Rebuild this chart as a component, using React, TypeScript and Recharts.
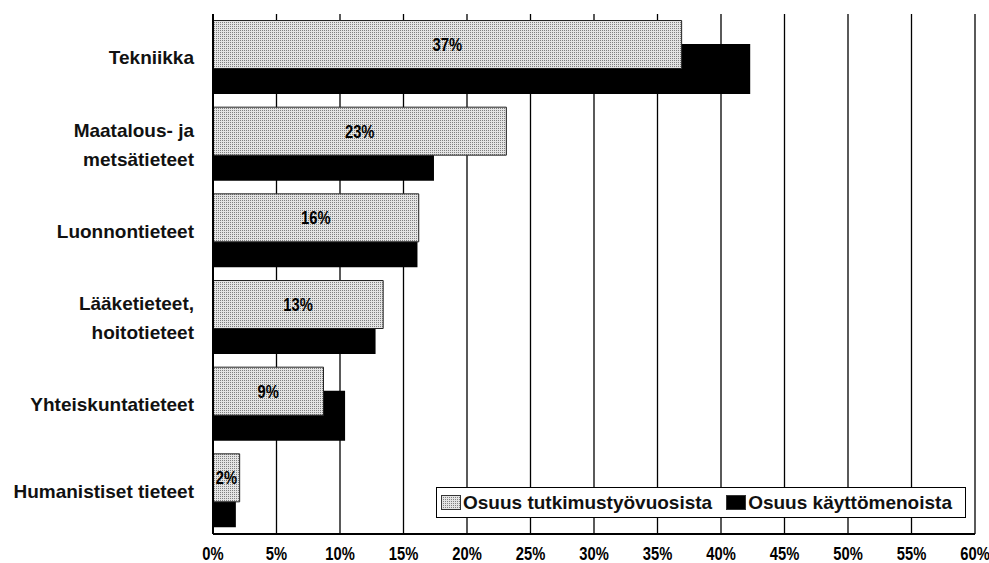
import React from "react";
import {
  BarChart,
  Bar,
  XAxis,
  YAxis,
  CartesianGrid,
  Legend,
  LabelList,
} from "recharts";

// Tieteenalat ylhäältä alas
const categories = [
  "Tekniikka",
  "Maatalous- ja\nmetsätieteet",
  "Luonnontieteet",
  "Lääketieteet,\nhoitotieteet",
  "Yhteiskuntatieteet",
  "Humanistiset tieteet",
];

// Osuus tutkimustyövuosista (%)
const tyovuodet = [36.9, 23.1, 16.2, 13.4, 8.7, 2.1];
// Osuus käyttömenoista (%)
const kayttomenot = [42.3, 17.4, 16.1, 12.8, 10.4, 1.8];

const xTicks = [0, 5, 10, 15, 20, 25, 30, 35, 40, 45, 50, 55, 60];

const data = categories.map((name, i) => ({
  name,
  tyovuodet: tyovuodet[i],
  kayttomenot: kayttomenot[i],
}));

const SANS = '"Liberation Sans", Arial, sans-serif';

// monirivinen luokkanimi
const CategoryTick = ({ x, y, payload }: any) => {
  const lines = String(payload.value).split("\n");
  return (
    <text
      x={x}
      y={y}
      textAnchor="end"
      fontSize={19}
      fontWeight="bold"
      fill="#111"
      fontFamily={SANS}
    >
      {lines.map((line, i) => (
        <tspan key={i} x={x} dy={i === 0 ? 7 - (lines.length - 1) * 14.5 : 29}>
          {line}
        </tspan>
      ))}
    </text>
  );
};

// kapeutettu lihavoitu teksti (alkuperäisen condensed-fontin tapaan)
const PercentTick = ({ x, y, payload }: any) => (
  <g transform={`translate(${x},${y})`}>
    <text
      transform="scale(0.82,1)"
      textAnchor="middle"
      dy="0.71em"
      fontSize={18}
      fontWeight="bold"
      fill="#000"
      fontFamily={SANS}
    >
      {`${payload.value}%`}
    </text>
  </g>
);

const BarValueLabel = ({ x, y, width, height, value }: any) => (
  <g transform={`translate(${Number(x) + Number(width) / 2},${Number(y) + Number(height) / 2})`}>
    <text
      transform="scale(0.82,1)"
      textAnchor="middle"
      dy="0.36em"
      fontSize={18}
      fontWeight="bold"
      fill="#000"
      fontFamily={SANS}
    >
      {`${Math.round(Number(value))}%`}
    </text>
  </g>
);

const LegendBox = ({ payload }: any) => (
  <div
    style={{
      display: "flex",
      alignItems: "center",
      height: "100%",
      boxSizing: "border-box",
      border: "1.5px solid #000",
      background: "#fff",
      padding: "0 4px",
      fontFamily: SANS,
      fontSize: 19,
      fontWeight: "bold",
      color: "#111",
    }}
  >
    {(payload || []).map((entry: any, i: number) => (
      <span
        key={entry.value}
        style={{ display: "flex", alignItems: "center", marginLeft: i === 0 ? 0 : 14 }}
      >
        <svg width={20} height={15} style={{ marginRight: 2 }}>
          <rect x={0.5} y={0.5} width={19} height={14} fill={entry.color} stroke="#333" strokeWidth={1} />
        </svg>
        <span>{entry.value}</span>
      </span>
    ))}
  </div>
);

export default function App() {
  return (
    <div style={{ position: "absolute", left: 0, top: 0, background: "#fff" }}>
      <BarChart
        width={989}
        height={563}
        data={data}
        layout="vertical"
        margin={{ top: 14, right: 14, bottom: 0, left: 0 }}
      >
        <defs>
          <pattern id="dots" width={2} height={2} patternUnits="userSpaceOnUse">
            <rect width={2} height={2} fill="#e4e4e4" />
            <rect width={1} height={1} fill="#808080" />
          </pattern>
        </defs>

        <CartesianGrid horizontal={false} stroke="#000" strokeWidth={1.3} />

        <XAxis
          type="number"
          domain={[0, 60]}
          ticks={xTicks}
          interval={0}
          height={29}
          tickSize={0}
          tickMargin={13}
          tickLine={false}
          axisLine={{ stroke: "#000", strokeWidth: 2 }}
          tick={<PercentTick />}
        />
        {/* yläreuna */}
        <XAxis
          xAxisId="top"
          orientation="top"
          type="number"
          domain={[0, 60]}
          height={0}
          tick={false}
          tickLine={false}
          axisLine={{ stroke: "#000", strokeWidth: 2 }}
        />

        {/* näkyvä luokka-akseli */}
        <YAxis
          yAxisId="cat"
          type="category"
          dataKey="name"
          width={213}
          tickSize={0}
          tickMargin={19}
          tickLine={false}
          interval={0}
          axisLine={{ stroke: "#000", strokeWidth: 2 }}
          tick={<CategoryTick />}
        />
        {/* piilotetut akselit, joilla palkit siirretään limittäin */}
        <YAxis yAxisId="kay" type="category" dataKey="name" hide padding={{ top: 12, bottom: -12 }} />
        <YAxis yAxisId="tyo" type="category" dataKey="name" hide padding={{ top: -12.5, bottom: 12.5 }} />
        {/* oikea reuna */}
        <YAxis
          yAxisId="right"
          orientation="right"
          type="category"
          dataKey="name"
          width={0}
          tick={false}
          tickLine={false}
          axisLine={{ stroke: "#000", strokeWidth: 2 }}
        />

        <Legend
          layout="horizontal"
          verticalAlign="middle"
          align="center"
          itemSorter={(item: any) => (item.dataKey === "tyovuodet" ? 0 : 1)}
          content={<LegendBox />}
          wrapperStyle={{ left: 436, top: 487, width: 530, height: 31 }}
        />

        <Bar
          yAxisId="kay"
          dataKey="kayttomenot"
          name="Osuus käyttömenoista"
          fill="#000"
          barSize={50}
          isAnimationActive={false}
          legendType="rect"
        />
        <Bar
          yAxisId="tyo"
          dataKey="tyovuodet"
          name="Osuus tutkimustyövuosista"
          fill="url(#dots)"
          stroke="#222"
          strokeWidth={1}
          barSize={48}
          isAnimationActive={false}
          legendType="rect"
        >
          <LabelList dataKey="tyovuodet" content={<BarValueLabel />} />
        </Bar>
      </BarChart>
    </div>
  );
}
